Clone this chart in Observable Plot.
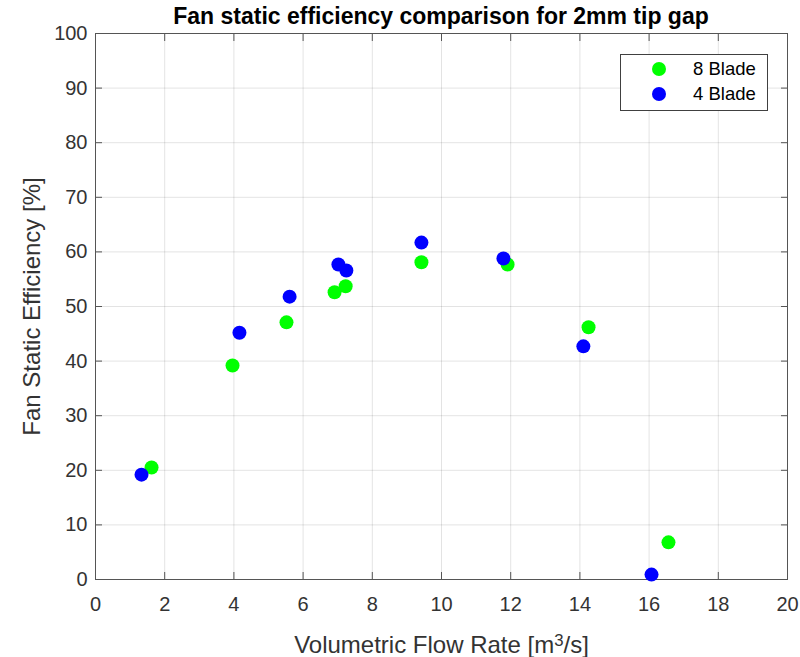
<!DOCTYPE html>
<html>
<head>
<meta charset="utf-8">
<script src="https://cdn.jsdelivr.net/npm/d3@7"></script>
<script src="https://cdn.jsdelivr.net/npm/@observablehq/plot@0.6"></script>
<style>
  body { margin: 0; background: #fff; }
  #wrap { position: relative; width: 800px; height: 657px; font-family: "Liberation Sans", Arial, sans-serif; background: #fff; }
  #chart { position: absolute; left: 0; top: 0; }
  #title { position: absolute; z-index: 2; left: 95px; width: 692px; top: 2px; height: 28px; line-height: 28px; text-align: center; font-weight: bold; font-size: 23px; color: #000; white-space: nowrap; }
  #legend { position: absolute; z-index: 2; left: 620px; top: 54px; width: 148px; height: 57px; border: 1px solid #404040; background: #fff; box-sizing: border-box; font-size: 18.5px; color: #000; }
  #legend .row { position: absolute; left: 0; height: 20px; line-height: 20px; width: 100%; }
  #legend .dot { position: absolute; left: 31px; top: 3px; width: 14px; height: 14px; border-radius: 50%; }
  #legend .lab { position: absolute; left: 72px; white-space: nowrap; }
</style>
</head>
<body>
<div id="wrap">
  <div id="chart"></div>
  <div id="title"></div>
  <div id="legend"></div>
</div>
<script>
const titleText = "Fan static efficiency comparison for 2mm tip gap";
const xLabelParts = ["Volumetric Flow Rate [m", "3", "/s]"];
const yLabel = "Fan Static Efficiency [%]";
const xTicks = [0, 2, 4, 6, 8, 10, 12, 14, 16, 18, 20];
const yTicks = [0, 10, 20, 30, 40, 50, 60, 70, 80, 90, 100];

const seriesNames = ["8 Blade", "4 Blade"];
const seriesColors = ["#00ff00", "#0000ff"];

const flow8 = [1.62, 3.96, 5.52, 6.91, 7.23, 9.42, 11.91, 14.25, 16.56];
const eff8  = [20.5, 39.2, 47.1, 52.6, 53.7, 58.1, 57.7, 46.2, 6.8];
const flow4 = [1.33, 4.16, 5.61, 7.02, 7.25, 9.42, 11.79, 14.10, 16.07];
const eff4  = [19.2, 45.2, 51.8, 57.7, 56.6, 61.7, 58.8, 42.7, 0.9];

const data = [
  ...flow8.map((x, i) => ({x, y: eff8[i], s: seriesNames[0]})),
  ...flow4.map((x, i) => ({x, y: eff4[i], s: seriesNames[1]}))
];

document.getElementById("title").textContent = titleText;

const axisColor = "#262626";
const plot = Plot.plot({
  width: 800,
  height: 657,
  marginLeft: 95,
  marginRight: 13,
  marginTop: 33,
  marginBottom: 78,
  style: { fontFamily: "'Liberation Sans', Arial, sans-serif", fontSize: "20px", color: axisColor, background: "transparent" },
  x: { domain: [0, 20] },
  y: { domain: [0, 100] },
  color: { domain: seriesNames, range: seriesColors },
  marks: [
    Plot.gridX(xTicks, { stroke: "#000", strokeOpacity: 0.11 }),
    Plot.gridY(yTicks, { stroke: "#000", strokeOpacity: 0.11 }),
    Plot.axisX(xTicks, { anchor: "bottom", tickSize: -7, tickPadding: 24, label: null, fill: "#333", stroke: "#555" }),
    Plot.axisX(xTicks, { anchor: "top", tickSize: -7, label: null, tickFormat: () => "", stroke: "#555" }),
    Plot.axisY(yTicks, { anchor: "left", tickSize: -7, tickPadding: 15, label: null, fill: "#333", stroke: "#555" }),
    Plot.axisY(yTicks, { anchor: "right", tickSize: -7, label: null, tickFormat: () => "", stroke: "#555" }),
    Plot.frame({ stroke: "#555" }),
    Plot.dot(data, { x: "x", y: "y", fill: "s", r: 7, stroke: null }),
    Plot.text([xLabelParts.join("")], { frameAnchor: "bottom", dy: 66, fontSize: 24, fill: "#333", textAnchor: "middle", lineAnchor: "middle", className: "xlab" }),
    Plot.text([yLabel], { frameAnchor: "left", dx: -63, rotate: -90, fontSize: 24, fill: "#333", textAnchor: "middle", lineAnchor: "middle" })
  ]
});
document.getElementById("chart").appendChild(plot);

// superscript for the x label
d3.select(plot).selectAll(".xlab text").each(function() {
  const t = d3.select(this);
  t.text(null);
  t.append("tspan").text(xLabelParts[0]);
  t.append("tspan").attr("dy", "-0.45em").attr("font-size", "0.7em").text(xLabelParts[1]);
  t.append("tspan").attr("dy", "0.32em").text(xLabelParts[2]);
});

const legend = d3.select("#legend");
seriesNames.forEach((name, i) => {
  const row = legend.append("div").attr("class", "row").style("top", (4 + i * 25) + "px");
  row.append("div").attr("class", "dot").style("background", seriesColors[i]);
  row.append("div").attr("class", "lab").text(name);
});
</script>
</body>
</html>
